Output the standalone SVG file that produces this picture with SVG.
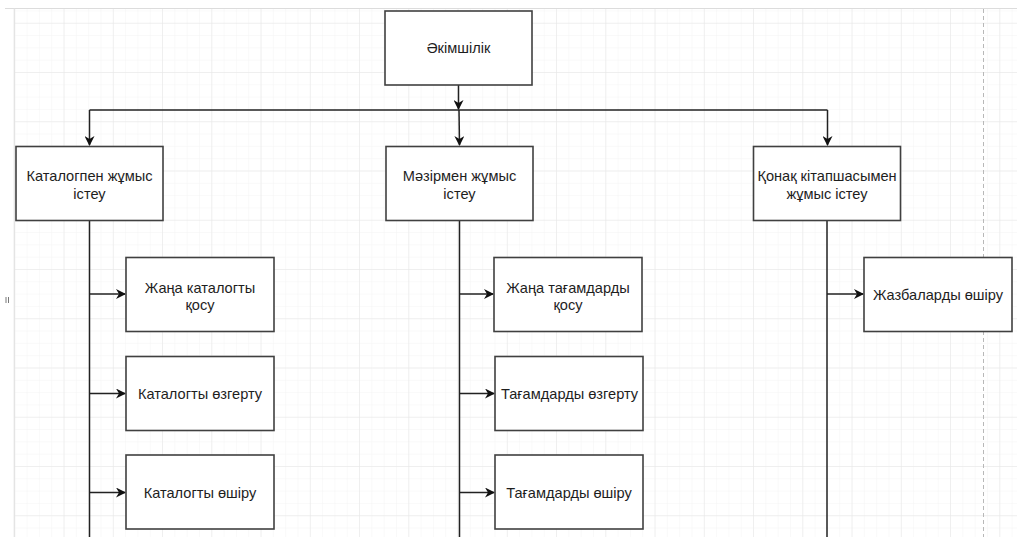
<svg xmlns="http://www.w3.org/2000/svg" width="1017" height="537" viewBox="0 0 1017 537">
  <defs>
    <pattern id="minor" x="14.3" y="22.75" width="12.3125" height="12.3125" patternUnits="userSpaceOnUse">
      <path d="M0 0V12.3125M0 0H12.3125" fill="none" stroke="#f3f3f3" stroke-width="1"/>
    </pattern>
    <pattern id="major" x="14.3" y="22.75" width="49.25" height="49.25" patternUnits="userSpaceOnUse">
      <path d="M0 0V49.25M0 0H49.25" fill="none" stroke="#e6e6e6" stroke-width="1"/>
    </pattern>
    <marker id="arr" viewBox="0 0 10 10" refX="9" refY="5" markerWidth="10" markerHeight="10" markerUnits="userSpaceOnUse" orient="auto">
      <path d="M0 0L10 5L0 10L3 5Z" fill="#111"/>
    </marker>
    <style>
      .box{fill:#fff;stroke:#404040;stroke-width:1.6}
      .t{font-family:"Liberation Sans","Noto Sans",Arial,sans-serif;font-size:14.6px;fill:#1e1e1e;text-anchor:middle}
      .c{fill:none;stroke:#222;stroke-width:1.5}
    </style>
  </defs>
  <rect width="1017" height="537" fill="#fff"/>
  <g id="grid">
    <rect x="14.3" y="8.5" width="1003" height="529" fill="url(#minor)"/>
    <rect x="14.3" y="8.5" width="1003" height="529" fill="url(#major)"/>
    <line x1="5" y1="8.5" x2="1017" y2="8.5" stroke="#dcdcdc" stroke-width="1.2"/>
    <line x1="14.3" y1="8.5" x2="14.3" y2="537" stroke="#e2e2e2" stroke-width="1.2"/>
    <line x1="983.5" y1="9" x2="983.5" y2="537" stroke="#b8b8b8" stroke-width="1" stroke-dasharray="4 3"/>
    <path d="M6 297V303M8.5 297V303" stroke="#555" stroke-width="0.8"/>
  </g>
  <g id="connectors">
    <path class="c" d="M458.5 85V109" marker-end="url(#arr)"/>
    <path class="c" d="M89.5 110H827.5"/>
    <path class="c" d="M89.5 110V145" marker-end="url(#arr)"/>
    <path class="c" d="M459 110L459.5 145" marker-end="url(#arr)"/>
    <path class="c" d="M827.5 110V145" marker-end="url(#arr)"/>
    <path class="c" d="M89.5 221V537"/>
    <path class="c" d="M459.5 221V537"/>
    <path class="c" d="M827 221V537"/>
    <path class="c" d="M89.5 294H125" marker-end="url(#arr)"/>
    <path class="c" d="M89.5 393.5H125" marker-end="url(#arr)"/>
    <path class="c" d="M89.5 492.5H125" marker-end="url(#arr)"/>
    <path class="c" d="M459.5 294H493" marker-end="url(#arr)"/>
    <path class="c" d="M459.5 393.5H494" marker-end="url(#arr)"/>
    <path class="c" d="M459.5 492.5H494" marker-end="url(#arr)"/>
    <path class="c" d="M827 294H863" marker-end="url(#arr)"/>
  </g>
  <g id="admin">
    <rect class="box" x="385" y="11" width="147" height="74"/>
    <text class="t" x="458.5" y="53">Әкімшілік</text>
  </g>
  <g id="catalog">
    <rect class="box" x="16" y="146.5" width="147" height="74"/>
    <text class="t" x="89.5" y="181">Каталогпен жұмыс</text>
    <text class="t" x="89.5" y="198.5">істеу</text>
  </g>
  <g id="menu">
    <rect class="box" x="386" y="146.5" width="147" height="74"/>
    <text class="t" x="459.5" y="181">Мәзірмен жұмыс</text>
    <text class="t" x="459.5" y="198.5">істеу</text>
  </g>
  <g id="guestbook">
    <rect class="box" x="753.5" y="146.5" width="147" height="74"/>
    <text class="t" x="827" y="181">Қонақ кітапшасымен</text>
    <text class="t" x="827" y="198.5">жұмыс істеу</text>
  </g>
  <g id="cat-add">
    <rect class="box" x="126" y="257.5" width="148" height="74"/>
    <text class="t" x="200" y="292.5">Жаңа каталогты</text>
    <text class="t" x="200" y="310">қосу</text>
  </g>
  <g id="cat-edit">
    <rect class="box" x="126" y="356.5" width="148" height="74"/>
    <text class="t" x="200" y="399">Каталогты өзгерту</text>
  </g>
  <g id="cat-del">
    <rect class="box" x="126" y="455" width="148" height="74"/>
    <text class="t" x="200" y="497.5">Каталогты өшіру</text>
  </g>
  <g id="menu-add">
    <rect class="box" x="494" y="257.5" width="148" height="74"/>
    <text class="t" x="568" y="292.5">Жаңа тағамдарды</text>
    <text class="t" x="568" y="310">қосу</text>
  </g>
  <g id="menu-edit">
    <rect class="box" x="495" y="356.5" width="148" height="74"/>
    <text class="t" x="569.5" y="399">Тағамдарды өзгерту</text>
  </g>
  <g id="menu-del">
    <rect class="box" x="495" y="455" width="148" height="74"/>
    <text class="t" x="569" y="497.5">Тағамдарды өшіру</text>
  </g>
  <g id="guest-del">
    <rect class="box" x="864" y="257.5" width="148" height="74"/>
    <text class="t" x="938" y="300">Жазбаларды өшіру</text>
  </g>
</svg>
